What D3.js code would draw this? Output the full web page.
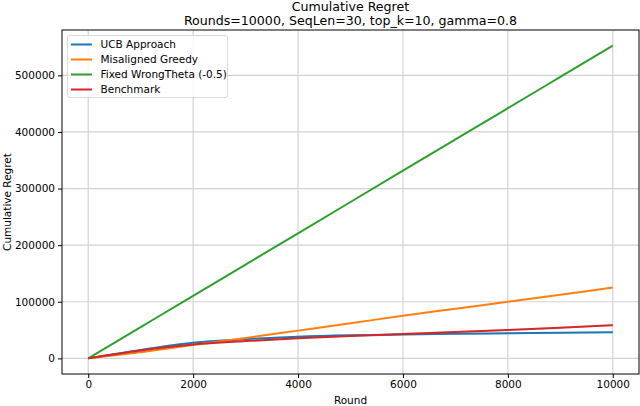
<!DOCTYPE html>
<html>
<head>
<meta charset="utf-8">
<script src="https://cdn.jsdelivr.net/npm/d3@7"></script>
<style>
html,body{margin:0;padding:0;background:#fff;}
svg{display:block;font-family:"DejaVu Sans",sans-serif;}
</style>
</head>
<body>
<svg id="chart" width="640" height="406"></svg>
<script>
const rounds = [0, 1000, 2000, 3000, 4000, 5000, 6000, 7000, 8000, 9000, 10000];
const ucbValues = [0, 15000, 27700, 34000, 38300, 40800, 42200, 43400, 44300, 45200, 46100];
const greedyValues = [0, 11000, 23500, 36000, 49000, 62000, 75300, 87700, 100000, 112500, 125000];
const wrongThetaValues = [0, 55250, 110500, 165750, 221000, 276250, 331500, 386750, 442000, 497250, 552500];
const benchmarkValues = [0, 14000, 24500, 30500, 35500, 39500, 43100, 46700, 50200, 54300, 58500];
const seriesNames = ["UCB Approach", "Misaligned Greedy", "Fixed WrongTheta (-0.5)", "Benchmark"];
const seriesColors = ["#1f77b4", "#ff7f0e", "#2ca02c", "#d62728"];
const xTicks = [0, 2000, 4000, 6000, 8000, 10000];
const yTicks = [0, 100000, 200000, 300000, 400000, 500000];
const titleLines = ["Cumulative Regret", "Rounds=10000, SeqLen=30, top_k=10, gamma=0.8"];

const svg = d3.select("#chart");
const L = 62, R = 639, T = 30, B = 374;
const x = d3.scaleLinear().domain([-500, 10500]).range([L, R]);
const y = d3.scaleLinear().domain([-27625, 580125]).range([B, T]);

// grid
svg.append("g").selectAll("line").data(xTicks).join("line")
  .attr("x1", d => x(d)).attr("x2", d => x(d)).attr("y1", T).attr("y2", B)
  .attr("stroke", "#d3d3d3").attr("stroke-width", 1.2);
svg.append("g").selectAll("line").data(yTicks).join("line")
  .attr("x1", L).attr("x2", R).attr("y1", d => y(d)).attr("y2", d => y(d))
  .attr("stroke", "#d3d3d3").attr("stroke-width", 1.2);

const allSeries = [ucbValues, greedyValues, wrongThetaValues, benchmarkValues];
const line = d3.line().x((d, i) => x(rounds[i])).y(d => y(d)).curve(d3.curveMonotoneX);
const area = d3.area().x((d, i) => x(rounds[i])).y0(d => y(d - 1500)).y1(d => y(d + 1500)).curve(d3.curveMonotoneX);

// light bands
[0, 3].forEach(k => {
  svg.append("path").datum(allSeries[k]).attr("d", area)
    .attr("fill", seriesColors[k]).attr("opacity", 0.2);
});

allSeries.forEach((vals, k) => {
  svg.append("path").datum(vals).attr("d", line)
    .attr("fill", "none").attr("stroke", seriesColors[k]).attr("stroke-width", 2);
});

// axes
const xAxis = d3.axisBottom(x).tickValues(xTicks).tickFormat(d3.format("d")).tickSize(4).tickPadding(3);
const yAxis = d3.axisLeft(y).tickValues(yTicks).tickFormat(d3.format("d")).tickSize(4).tickPadding(3);
const gx = svg.append("g").attr("transform", `translate(0,${B})`).call(xAxis);
const gy = svg.append("g").attr("transform", `translate(${L},0)`).call(yAxis);
[gx, gy].forEach(g => {
  g.select(".domain").remove();
  g.selectAll("text").attr("font-family", "DejaVu Sans").attr("font-size", 10.5).attr("fill", "#000");
  g.selectAll("line").attr("stroke", "#000").attr("stroke-width", 1);
});

// frame
svg.append("rect").attr("x", L).attr("y", T).attr("width", R - L).attr("height", B - T)
  .attr("fill", "none").attr("stroke", "#000").attr("stroke-width", 1);

// titles
svg.append("g").selectAll("text").data(titleLines).join("text")
  .attr("x", (L + R) / 2).attr("y", (d, i) => 11 + i * 13.8)
  .attr("text-anchor", "middle").attr("font-size", 12.6).attr("fill", "#000").text(d => d);

svg.append("text").attr("x", (L + R) / 2).attr("y", 404).attr("text-anchor", "middle")
  .attr("font-size", 10.5).text("Round");
svg.append("text").attr("transform", `translate(11,${(T + B) / 2}) rotate(-90)`)
  .attr("text-anchor", "middle").attr("font-size", 10.5).text("Cumulative Regret");

// legend
const lg = svg.append("g");
lg.append("rect").attr("x", 67.5).attr("y", 35.5).attr("width", 160).attr("height", 62).attr("rx", 2.5)
  .attr("fill", "#fff").attr("fill-opacity", 0.8).attr("stroke", "#d9d9d9").attr("stroke-width", 1);
seriesNames.forEach((name, i) => {
  const cy = 44.5 + i * 15;
  lg.append("line").attr("x1", 71).attr("x2", 92).attr("y1", cy).attr("y2", cy)
    .attr("stroke", seriesColors[i]).attr("stroke-width", 2);
  lg.append("text").attr("x", 100.5).attr("y", cy + 3.8).attr("font-size", 10.5).text(name);
});
</script>
</body>
</html>
